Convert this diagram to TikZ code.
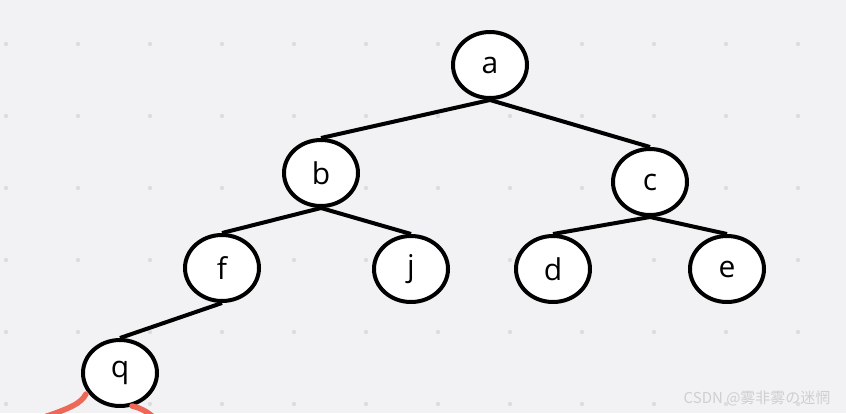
\documentclass[tikz,border=0pt]{standalone}
\usepackage{fontspec}
\setmainfont{Open Sans}
\newfontfamily\cjkfont{Noto Sans CJK SC}
\usetikzlibrary{shapes.geometric}
\definecolor{paper}{RGB}{242,242,244}
\definecolor{griddot}{RGB}{221,221,225}
\definecolor{cutred}{RGB}{238,104,88}

\begin{document}
\begin{tikzpicture}[x=1pt, y=-1pt,
  vertex/.style={ellipse, draw=black, line width=4pt, fill=white, inner sep=0pt,
    minimum width=74pt, minimum height=66pt, font=\fontsize{30}{30}\selectfont},
  edge/.style={line width=4pt, draw=black},
  cut/.style={line width=5.5pt, draw=cutred, line cap=round}]
\useasboundingbox (0,0) rectangle (846,413);
\clip (0,0) rectangle (846,413);
\fill[paper] (0,0) rectangle (846,413);
% dot grid
\foreach \i in {0,...,11}
  \foreach \j in {0,...,5}
    \fill[griddot] (6+72*\i,44+72*\j) circle (2.2pt);
% tree
\node[vertex] (a) at (490,65)  {a};
\node[vertex] (b) at (321,173) {b};
\node[vertex] (c) at (650,182) {c};
\node[vertex] (f) at (222,268) {f};
\node[vertex] (j) at (411,269) {j};
\node[vertex] (d) at (553,269) {d};
\node[vertex] (e) at (727,269) {e};
\node[vertex] (q) at (120,373) {q};
\draw[edge] (a.south)--(b.north); \draw[edge] (a.south)--(c.north);
\draw[edge] (b.south)--(f.north); \draw[edge] (b.south)--(j.north);
\draw[edge] (c.south)--(d.north); \draw[edge] (c.south)--(e.north);
\draw[edge] (f.south)--(q.north);
% cut-off children of q
\coordinate (qL) at (38,419);
\coordinate (qR) at (160,424);
\draw[cut] (86,394) .. controls (81,403) and (72,408) .. (qL);
\draw[cut] (132,406) .. controls (141,408) and (151,413) .. (qR);
\node[font=\cjkfont\fontsize{15}{15}\selectfont, text=black!19, anchor=east] (mark) at (834,398) {CSDN @雾非雾の迷惘};
\end{tikzpicture}
\end{document}
